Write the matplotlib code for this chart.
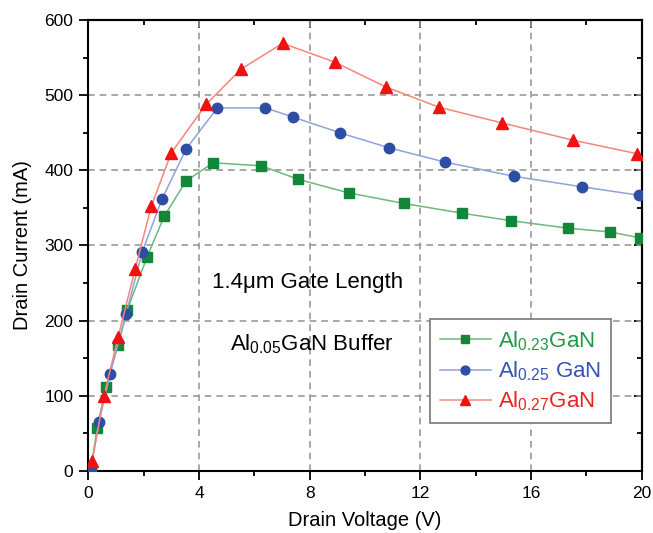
import matplotlib
matplotlib.use("Agg")
import matplotlib.pyplot as plt
from matplotlib.ticker import MultipleLocator

plt.rcParams["font.family"] = ["Liberation Sans", "DejaVu Sans"]
plt.rcParams["mathtext.fontset"] = "custom"
plt.rcParams["mathtext.rm"] = "Liberation Sans"
plt.rcParams["mathtext.it"] = "Liberation Sans:italic"
plt.rcParams["mathtext.bf"] = "Liberation Sans:bold"

# Output characteristics (drain voltage in V, drain current in mA)
v_023 = [0.1, 0.31, 0.63, 1.07, 1.40, 2.12, 2.74, 3.53, 4.51, 6.25, 7.59, 9.41,
         11.40, 13.5, 15.28, 17.35, 18.87, 19.96]
i_023 = [4, 57, 112, 168, 214, 285, 339, 386, 410, 406, 388, 370,
         356, 343, 333, 323, 318, 310]

v_025 = [0.09, 0.38, 0.78, 1.36, 1.94, 2.66, 3.54, 4.66, 6.40, 7.38, 9.09,
         10.86, 12.89, 15.39, 17.86, 19.89]
i_025 = [5, 65, 129, 209, 291, 362, 429, 483, 483, 471, 450,
         430, 411, 392, 378, 367]

v_027 = [0.13, 0.56, 1.07, 1.69, 2.27, 2.99, 4.26, 5.53, 7.02, 8.90, 10.75,
         12.67, 14.96, 17.53, 19.85]
i_027 = [13, 100, 178, 269, 352, 423, 488, 535, 569, 544, 511,
         484, 463, 440, 422]

labels = [r"Al$_{\mathregular{0.23}}$GaN", r"Al$_{\mathregular{0.25}}$ GaN",
          r"Al$_{\mathregular{0.27}}$GaN"]
notes = ["1.4\u03bcm Gate Length", r"Al$_{\mathregular{0.05}}$GaN Buffer"]

fig = plt.figure(figsize=(6.53, 5.33), dpi=100)
ax = fig.add_axes([0.1355, 0.1163, 0.847, 0.8462])

series = [
    (v_023, i_023, "s", 6.5, "#6db87c", "#11873a", "#1f9a45"),
    (v_025, i_025, "o", 7.5, "#8fa3da", "#2e4ea6", "#3553b5"),
    (v_027, i_027, "^", 8.0, "#f4877a", "#ee1212", "#e8231f"),
]
for (x, y, mk, ms, lc, mc, tc), lab in zip(series, labels):
    ax.plot(x, y, color=lc, lw=1.1, marker=mk, ms=ms, mfc=mc, mec=mc,
            label=lab, zorder=3)

ax.set_xlim(0, 20)
ax.set_ylim(0, 600)
ax.xaxis.set_major_locator(MultipleLocator(4))
ax.xaxis.set_minor_locator(MultipleLocator(2))
ax.yaxis.set_major_locator(MultipleLocator(100))
ax.yaxis.set_minor_locator(MultipleLocator(50))

ax.tick_params(which="both", direction="out", top=False, right=False,
               width=1.3, labelsize=12.5, colors="black", pad=4.5)
ax.tick_params(which="major", length=6.5)
ax.tick_params(which="minor", length=3.5)

# inward ticks on the top and right edges
ax2 = ax.secondary_xaxis("top")
ax2.xaxis.set_major_locator(MultipleLocator(4))
ax2.xaxis.set_minor_locator(MultipleLocator(2))
ax2.tick_params(which="both", direction="in", labeltop=False, width=1.3)
ax2.tick_params(which="major", length=6)
ax2.tick_params(which="minor", length=3.5)
ax3 = ax.secondary_yaxis("right")
ax3.yaxis.set_major_locator(MultipleLocator(100))
ax3.yaxis.set_minor_locator(MultipleLocator(50))
ax3.tick_params(which="both", direction="in", labelright=False, width=1.3)
ax3.tick_params(which="major", length=6)
ax3.tick_params(which="minor", length=3.5)

for sp in ax.spines.values():
    sp.set_linewidth(1.5)
ax2.spines["top"].set_linewidth(1.5)
ax3.spines["right"].set_linewidth(1.5)

ax.grid(True, which="major", color="#9a9a9a", lw=1.2, ls=(0, (4, 3)), zorder=0)

ax.set_xlabel("Drain Voltage (V)", fontsize=14.5, labelpad=7)
ax.set_ylabel("Drain Current (mA)", fontsize=14.5, labelpad=9)

ax.text(0.396, 0.419, notes[0], transform=ax.transAxes, fontsize=16,
        ha="center", va="center")
ax.text(0.404, 0.282, notes[1], transform=ax.transAxes, fontsize=16,
        ha="center", va="center")

leg = ax.legend(loc="lower right", bbox_to_anchor=(0.944, 0.106), fontsize=16,
                frameon=True, fancybox=False, edgecolor="#777777",
                framealpha=1, handlelength=2.3, handletextpad=0.3,
                labelspacing=0.3, borderpad=0.45, borderaxespad=0,
                markerscale=0.85)
leg.get_frame().set_linewidth(1.2)
for txt, s in zip(leg.get_texts(), series):
    txt.set_color(s[6])

fig.savefig("out.png", dpi=100)
